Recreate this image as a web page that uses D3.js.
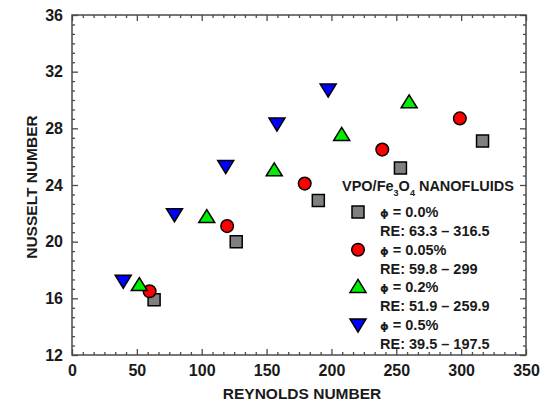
<!DOCTYPE html>
<html><head><meta charset="utf-8">
<script src="https://cdn.jsdelivr.net/npm/d3@7"></script>
<style>
body{margin:0;background:#fff;}
text{font-family:"Liberation Sans",Arial,sans-serif;font-weight:bold;fill:#1a1a1a;}
</style></head>
<body><svg id="c" width="546" height="405"></svg>
<script>
// Data
const re00 = [63.3, 126.6, 189.9, 253.2, 316.5];
const nu00 = [15.9, 20.0, 22.9, 25.2, 27.1];
const re005 = [59.8, 119.6, 179.4, 239.2, 299.0];
const nu005 = [16.5, 21.1, 24.1, 26.5, 28.7];
const re02 = [51.9, 103.9, 155.9, 207.9, 259.9];
const nu02 = [16.9, 21.7, 25.0, 27.5, 29.8];
const re05 = [39.5, 79.0, 118.5, 158.0, 197.5];
const nu05 = [17.2, 21.9, 25.3, 28.3, 30.7];
const xTicks = [0, 50, 100, 150, 200, 250, 300, 350];
const yTicks = [12, 16, 20, 24, 28, 32, 36];
const seriesNames = ["ϕ = 0.0%", "ϕ = 0.05%", "ϕ = 0.2%", "ϕ = 0.5%"];
const seriesRanges = ["RE: 63.3 – 316.5", "RE: 59.8 – 299", "RE: 51.9 – 259.9", "RE: 39.5 – 197.5"];

const series = [
  {re: re00, nu: nu00, shape: "square", color: "#808080"},
  {re: re005, nu: nu005, shape: "circle", color: "#ff0000"},
  {re: re02, nu: nu02, shape: "up", color: "#00ee00"},
  {re: re05, nu: nu05, shape: "down", color: "#0000ff"}
];

const L = 72, R = 526, T = 15, B = 355;
const svg = d3.select("#c");
const x = d3.scaleLinear().domain([0, 350]).range([L, R]);
const y = d3.scaleLinear().domain([12, 36]).range([B, T]);

const axColor = "#4a4a4a";
const minorX = d3.range(0, 351, 50/6).filter(v => Math.abs(v/50 - Math.round(v/50)) > 1e-6);
const minorY = d3.range(12, 36.001, 4/6).filter(v => Math.abs((v-12)/4 - Math.round((v-12)/4)) > 1e-6);

function styleAxis(g){
  g.select(".domain").remove();
  g.selectAll("line").attr("stroke", axColor).attr("stroke-width", 1.3);
}
// bottom
svg.append("g").attr("transform", `translate(0,${B})`)
  .call(d3.axisBottom(x).tickValues(xTicks).tickSize(-6).tickPadding(10).tickFormat(d3.format("d")))
  .call(styleAxis)
  .call(g => g.selectAll("text").attr("font-size", 16).attr("fill", "#1a1a1a").attr("font-family", "Liberation Sans, Arial").attr("font-weight", "bold"));
svg.append("g").attr("transform", `translate(0,${B})`)
  .call(d3.axisBottom(x).tickValues(minorX).tickSize(-3).tickFormat(""))
  .call(styleAxis);
// top
svg.append("g").attr("transform", `translate(0,${T})`)
  .call(d3.axisTop(x).tickValues(xTicks).tickSize(-6).tickFormat(""))
  .call(styleAxis);
svg.append("g").attr("transform", `translate(0,${T})`)
  .call(d3.axisTop(x).tickValues(minorX).tickSize(-3).tickFormat(""))
  .call(styleAxis);
// left
svg.append("g").attr("transform", `translate(${L},0)`)
  .call(d3.axisLeft(y).tickValues(yTicks).tickSize(-6).tickPadding(9).tickFormat(d3.format("d")))
  .call(styleAxis)
  .call(g => g.selectAll("text").attr("font-size", 16).attr("fill", "#1a1a1a").attr("font-family", "Liberation Sans, Arial").attr("font-weight", "bold"));
svg.append("g").attr("transform", `translate(${L},0)`)
  .call(d3.axisLeft(y).tickValues(minorY).tickSize(-3).tickFormat(""))
  .call(styleAxis);
// right
svg.append("g").attr("transform", `translate(${R},0)`)
  .call(d3.axisRight(y).tickValues(yTicks).tickSize(-6).tickFormat(""))
  .call(styleAxis);
svg.append("g").attr("transform", `translate(${R},0)`)
  .call(d3.axisRight(y).tickValues(minorY).tickSize(-3).tickFormat(""))
  .call(styleAxis);

svg.append("rect").attr("x", L).attr("y", T).attr("width", R-L).attr("height", B-T)
  .attr("fill", "none").attr("stroke", axColor).attr("stroke-width", 1.5);

// axis titles
svg.append("text").attr("x", (L+R)/2 + 3).attr("y", 399).attr("text-anchor", "middle")
  .attr("font-size", 15.5).text("REYNOLDS NUMBER");
svg.append("text").attr("transform", `translate(37,${(T+B)/2 + 2}) rotate(-90)`).attr("text-anchor", "middle")
  .attr("font-size", 15.5).text("NUSSELT NUMBER");

function shapePath(shape){
  switch(shape){
    case "square": return "M-6,-6H6V6H-6Z";
    case "circle": return "M6.3,0A6.3,6.3 0 1,1 -6.3,0A6.3,6.3 0 1,1 6.3,0Z";
    case "up": return "M0,-8L8,5H-8Z";
    case "down": return "M-8,-6H8L0,7Z";
  }
}

series.forEach(s => {
  svg.append("g").selectAll("path").data(s.re.map((r,i) => [r, s.nu[i]])).join("path")
    .attr("transform", d => `translate(${x(d[0])},${y(d[1])})`)
    .attr("d", shapePath(s.shape))
    .attr("fill", s.color).attr("stroke", "#000").attr("stroke-width", 1.5);
});

// legend
const lg = svg.append("g");
const title = lg.append("text").attr("x", 342).attr("y", 191).attr("font-size", 14.5);
title.append("tspan").text("VPO/Fe");
title.append("tspan").attr("font-size", 9).attr("dy", 5).text("3");
title.append("tspan").attr("dy", -5).text("O");
title.append("tspan").attr("font-size", 9).attr("dy", 5).text("4");
title.append("tspan").attr("dy", -5).text(" NANOFLUIDS");

series.forEach((s, i) => {
  const cy = 212 + i * 37.7;
  lg.append("path").attr("transform", `translate(358,${cy})`).attr("d", shapePath(s.shape))
    .attr("fill", s.color).attr("stroke", "#000").attr("stroke-width", 1.5);
  const t = lg.append("text").attr("x", 380).attr("y", cy + 5).attr("font-size", 14.5);
  const parts = seriesNames[i].split(" ");
  t.append("tspan").attr("font-size", 11).attr("font-family", "DejaVu Sans").text(parts[0]);
  t.append("tspan").text(" " + parts.slice(1).join(" "));
  lg.append("text").attr("x", 380).attr("y", cy + 24).attr("font-size", 14.5).text(seriesRanges[i]);
});
</script></body></html>
